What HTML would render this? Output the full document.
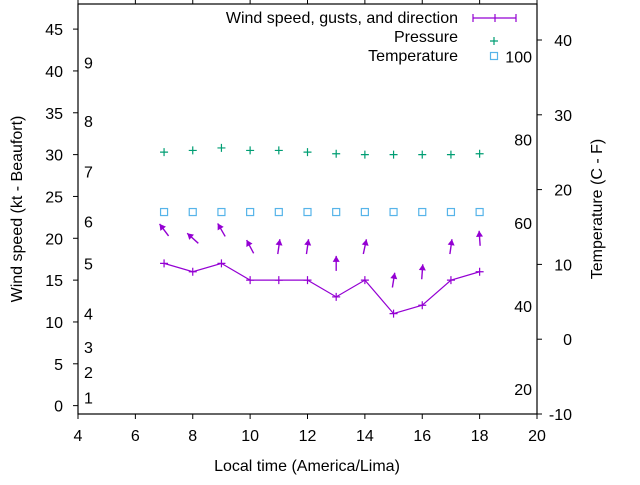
<!DOCTYPE html>
<html><head><meta charset="utf-8"><style>
body{margin:0;background:#fff}
svg text{font-family:"Liberation Sans",sans-serif;font-size:16px;fill:#000}
</style></head><body>
<svg id="chart" width="640" height="480" xmlns="http://www.w3.org/2000/svg">
<rect x="78" y="4" width="459" height="410" fill="none" stroke="#000" stroke-width="1.2"/>
<g id="axes"></g>
<g id="marks"></g>
<text x="22" y="209" text-anchor="middle" transform="rotate(-90 22 209)">Wind speed (kt - Beaufort)</text>
<text x="602" y="209" text-anchor="middle" transform="rotate(-90 602 209)">Temperature (C - F)</text>
<text x="307" y="471" text-anchor="middle">Local time (America/Lima)</text>
<g>
<text x="458" y="23" text-anchor="end">Wind speed, gusts, and direction</text>
<text x="458" y="42" text-anchor="end">Pressure</text>
<text x="458" y="61" text-anchor="end">Temperature</text>
<path d="M473 18H516M473 14V22M495 14V22M516 14V22" stroke="#9400d3" stroke-width="1.2" fill="none"/>
<path d="M494 37V45M490 41H498" stroke="#009e73" stroke-width="1.2"/>
<rect x="490.5" y="52.5" width="7" height="7" fill="none" stroke="#56b4e9" stroke-width="1.2"/>
</g>
</svg>
<script>
const hours=[7,8,9,10,11,12,13,14,15,16,17,18];
const windKt=[17,16,17,15,15,15,13,15,11,12,15,16];
const gustKt=[21,20,21,19,19,19,17,19,15,16,19,20];
const arrowDeg=[-37,-48,-30,-28,8,8,0,12,9,4,8,-4];
const pressure=[30.3,30.5,30.8,30.5,30.5,30.3,30.1,30.0,30.0,30.0,30.0,30.1];
const tempC=[17,17,17,17,17,17,17,17,17,17,17,17];
const xTicks=[4,6,8,10,12,14,16,18,20];
const yTicks=[0,5,10,15,20,25,30,35,40,45];
const y2Ticks=[-10,0,10,20,30,40];
const beaufortKt=[1,4,7,11,17,22,28,34,41];
const beaufortLabels=["1","2","3","4","5","6","7","8","9"];
const fahrenheit=[20,40,60,80,100];

const X=v=>78+(v-4)*459/16;
const Y=v=>414-(v+1)*410/49;
const Y2=c=>414-(c+10)*7.48;
const NS="http://www.w3.org/2000/svg";
const axes=document.getElementById('axes'),marks=document.getElementById('marks');
function mk(p,tag,at,txt){const e=document.createElementNS(NS,tag);for(const k in at)e.setAttribute(k,at[k]);if(txt!==undefined)e.textContent=txt;p.appendChild(e);return e;}
xTicks.forEach(t=>{
 const l=mk(axes,'path',{d:`M${X(t)} 414V419M${X(t)} 4V0`,stroke:'#000','stroke-width':1});
 
 
 const tx=mk(axes,'text',{x:X(t),y:441,'text-anchor':'middle'},t);
 
 
});
yTicks.forEach(t=>{
 const l=mk(axes,'path',{d:`M73 ${Y(t)}H78`,stroke:'#000','stroke-width':1});
 
 
 const tx=mk(axes,'text',{x:63,y:Y(t)+6,'text-anchor':'end'},t);
 
 
});
y2Ticks.forEach(t=>{
 const l=mk(axes,'path',{d:`M537 ${Y2(t)}H542`,stroke:'#000','stroke-width':1});
 
 
 const tx=mk(axes,'text',{x:572,y:Y2(t)+6,'text-anchor':'end'},t);
 
 
});
beaufortKt.forEach((k,i)=>{
 const tx=mk(axes,'text',{x:84,y:Y(k)+6},beaufortLabels[i]);
 
 
});
fahrenheit.forEach(f=>{
 const tx=mk(axes,'text',{x:532,y:Y2((f-32)*5/9)+6,'text-anchor':'end'},f);
 
 
});
// wind line
const line=mk(marks,'polyline',{points:hours.map((h,i)=>X(h)+','+Y(windKt[i])).join(' '),fill:'none',stroke:'#9400d3','stroke-width':1.2});


hours.forEach((h,i)=>{
 const x=X(h),y=Y(windKt[i]);
 const p=mk(marks,'path',{d:`M${x-4} ${y}H${x+4}M${x} ${y-4}V${y+4}`,stroke:'#9400d3','stroke-width':1.2});
 
 
 // gust arrow
 const gy=Y(gustKt[i]),a=arrowDeg[i]*Math.PI/180,L=7.5;
 const dx=Math.sin(a),dy=-Math.cos(a);
 const hx=x+dx*L,hy=gy+dy*L,tx=x-dx*L,ty=gy-dy*L;
 const px=-dy,py=dx;
 const g=mk(marks,'g',{});
 
 
 mk(g,'line',{x1:tx,y1:ty,x2:hx,y2:hy,stroke:'#9400d3','stroke-width':1.4});
 mk(g,'polygon',{points:`${hx},${hy} ${hx-dx*6+px*3.5},${hy-dy*6+py*3.5} ${hx-dx*6-px*3.5},${hy-dy*6-py*3.5}`,fill:'#9400d3'});
 const pp=Y(pressure[i]);
 const pr=mk(marks,'path',{d:`M${x-4} ${pp}H${x+4}M${x} ${pp-4}V${pp+4}`,stroke:'#009e73','stroke-width':1.2});
 
 
 const ty2=Y2(tempC[i]);
 const r=mk(marks,'rect',{x:x-3.5,y:ty2-3.5,width:7,height:7,fill:'none',stroke:'#56b4e9','stroke-width':1.2});
 
 
});
</script>
</body></html>
